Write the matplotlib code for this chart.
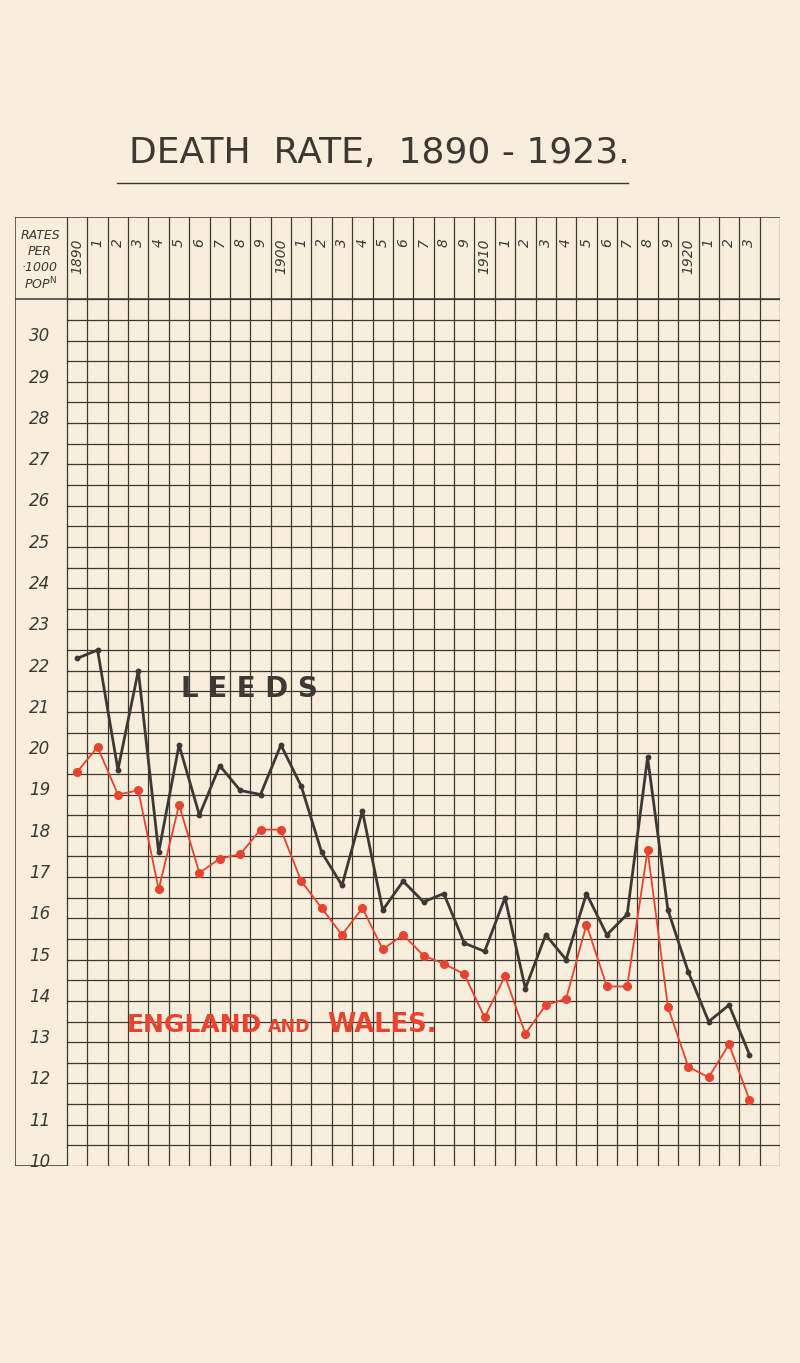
import matplotlib.pyplot as plt
from matplotlib.lines import Line2D

# death rates per 1000 population
years = list(range(1890, 1924))
leeds = [22.3, 22.5, 19.6, 22.0, 17.6, 20.2, 18.5, 19.7, 19.1, 19.0,
         20.2, 19.2, 17.6, 16.8, 18.6, 16.2, 16.9, 16.4, 16.6, 15.4,
         15.2, 16.5, 14.3, 15.6, 15.0, 16.6, 15.6, 16.1, 19.9, 16.2,
         14.7, 13.5, 13.9, 12.7]
england_wales = [19.55, 20.15, 19.0, 19.1, 16.7, 18.75, 17.1, 17.45, 17.55, 18.15,
                 18.15, 16.9, 16.25, 15.6, 16.25, 15.25, 15.6, 15.1, 14.9, 14.65,
                 13.6, 14.6, 13.2, 13.9, 14.05, 15.85, 14.35, 14.35, 17.65, 13.85,
                 12.4, 12.15, 12.95, 11.6]
year_labels = ['1890', '1', '2', '3', '4', '5', '6', '7', '8', '9',
               '1900', '1', '2', '3', '4', '5', '6', '7', '8', '9',
               '1910', '1', '2', '3', '4', '5', '6', '7', '8', '9',
               '1920', '1', '2', '3']
rate_labels = list(range(10, 31))

bg = '#f8eedd'
ink = '#3d3833'
red = '#e8432e'

fig = plt.figure(figsize=(8, 13.63), dpi=100)
fig.patch.set_facecolor(bg)

# axes covers the whole ruled box (label column + grid + header)
px_col = 20.37
x_right = 1924.5
x_grid0 = 1889.5
x_left = x_grid0 - (67 - 15) / px_col
ax = fig.add_axes([15 / 800, 197 / 1363, 765 / 800, (1166 - 216.7) / 1363])
ax.set_xlim(x_left, x_right)
ax.set_ylim(10, 33)
ax.axis('off')
ax.set_facecolor(bg)

lw_grid = 0.9
# vertical column rules, through the header too
for k in range(36):
    ax.plot([x_grid0 + k, x_grid0 + k], [10, 33], color=ink, lw=lw_grid, zorder=1)
# horizontal rules every half unit
for k in range(43):
    y = 10 + k * 0.5
    ax.plot([x_grid0, x_right], [y, y], color=ink, lw=lw_grid, zorder=1)
# outer frame and header
ax.plot([x_left, x_left], [10, 33], color=ink, lw=1.1, zorder=1)
ax.plot([x_left, x_right], [33, 33], color=ink, lw=1.1, zorder=1)
ax.plot([x_left, x_right], [31, 31], color=ink, lw=1.1, zorder=1)
ax.plot([x_left, x_grid0], [10, 10], color=ink, lw=1.1, zorder=1)

# header labels
xc = x_left + (40 - 15) / px_col
for txt, y in [('RATES', 32.55), ('PER', 32.15), ('·1000', 31.76), ('POP$^{\\mathsf{N}}$', 31.37)]:
    ax.text(xc, y, txt, ha='center', va='center', fontsize=9, style='italic', color=ink)
for yr, lab in zip(years, year_labels):
    ax.text(yr, 32.48, lab, rotation=90, ha='center', va='top', fontsize=10,
            style='italic', color=ink)

# rate labels
for v in rate_labels:
    ax.text(xc, v + 0.1, str(v), ha='center', va='center', fontsize=12,
            style='italic', color=ink)

# series
ax.plot(years, leeds, color=ink, lw=2.0, marker='o', ms=3.2, zorder=3)
ax.plot(years, england_wales, color=red, lw=1.3, marker='o', ms=5.5, zorder=4)

# in-chart labels
ax.text(1898.45, 21.36, 'L E E D S', ha='center', va='baseline', fontsize=20,
        fontweight='bold', color=ink, zorder=5)
ax.text(1892.45, 13.25, 'ENGLAND', ha='left', va='baseline', fontsize=18,
        fontweight='bold', color=red, zorder=5)
ax.text(1899.35, 13.25, 'AND', ha='left', va='baseline', fontsize=12.5,
        fontweight='bold', color=red, zorder=5)
ax.text(1902.25, 13.25, 'WALES.', ha='left', va='baseline', fontsize=18.5,
        fontweight='bold', color=red, zorder=5)

# title with underline
fig.text(379 / 800, (1363 - 153) / 1363, 'DEATH  RATE,  1890 - 1923.', ha='center',
         va='center', fontsize=26, color=ink)
fig.add_artist(Line2D([117 / 800, 628 / 800], [(1363 - 183) / 1363] * 2,
                      color=ink, lw=1.0))

fig.savefig('out.png', dpi=100, facecolor=bg)
